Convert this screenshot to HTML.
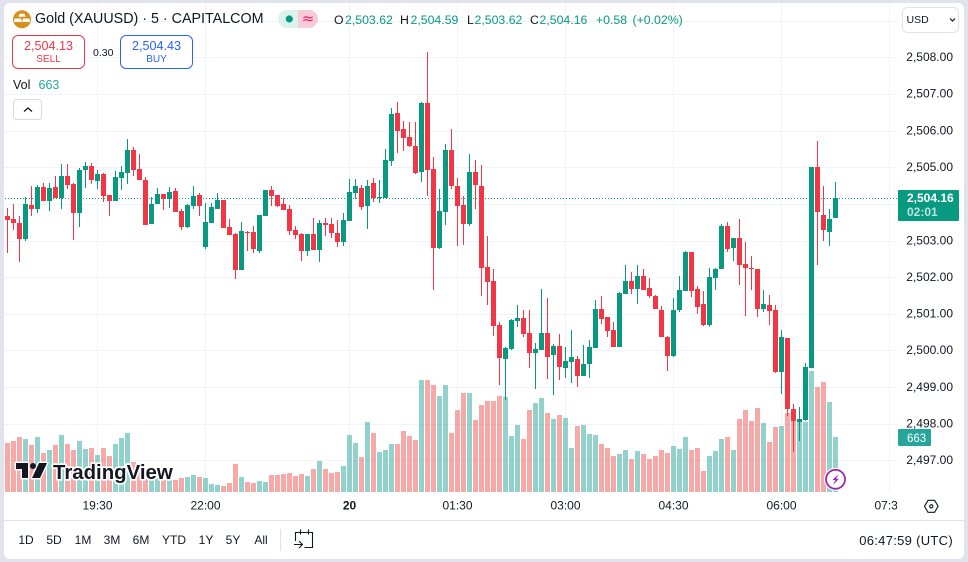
<!DOCTYPE html>
<html lang="en">
<head>
<meta charset="utf-8">
<title>Gold (XAUUSD) chart</title>
<style>
html,body{margin:0;padding:0;width:968px;height:562px;overflow:hidden;background:#E0E3EB;font-family:"Liberation Sans",sans-serif;color:#131722;}
#card{position:absolute;left:4px;top:3px;width:960px;height:556px;background:#fff;border-radius:6px;}
#chart{position:absolute;left:0;top:0;}
.t{position:absolute;white-space:nowrap;line-height:1;}
.g{color:#089981;}
.box{position:absolute;top:35px;width:71px;height:32px;border-radius:6px;background:#fff;border:1px solid;}
.box div{position:absolute;left:0;width:100%;text-align:center;line-height:1;}
.range{position:absolute;top:534px;font-size:12px;color:#131722;line-height:13px;transform:translateX(-50%);white-space:nowrap;}
</style>
</head>
<body>
<div id="card"></div>
<svg id="chart" width="968" height="562" viewBox="0 0 968 562" xmlns="http://www.w3.org/2000/svg">
  <defs><clipPath id="paneClip"><rect x="4" y="3" width="893" height="520"/></clipPath></defs>
  <g id="gridLayer"></g>
  <g id="volumeLayer"></g>
  <line x1="5" y1="198.5" x2="897" y2="198.5" stroke="#089981" stroke-width="1" stroke-dasharray="1 2"/>
  <g id="candleLayer"></g>
  <g id="timeLayer" clip-path="url(#paneClip)"></g>
  <g id="priceLayer"></g>
  <line x1="4" y1="520.5" x2="964" y2="520.5" stroke="#E0E3EB"/>

  <g>
    <path d="M16 463h12v15h-6v-9h-6z M39 463h8l-7 15h-8z" fill="#131722" stroke="#fff" stroke-width="3" paint-order="stroke" stroke-linejoin="round"/>
    <circle cx="33" cy="466" r="3" fill="#131722"/>
    <text x="53" y="479" font-size="20.4" font-weight="700" fill="#131722" stroke="#fff" stroke-width="3.5" paint-order="stroke" stroke-linejoin="round" font-family="Liberation Sans, sans-serif">TradingView</text>
  </g>

  <g>
    <circle cx="835.5" cy="479.3" r="11.5" fill="#fff"/>
    <circle cx="835.5" cy="479.3" r="9.5" fill="#fff" stroke="#9C27B0" stroke-width="1.8"/>
    <path d="M838.5 474l-6 6h3l-2.5 5 6-6.2h-3z" fill="#9C27B0"/>
  </g>

  <g fill="none" stroke="#131722" stroke-width="1.1">
    <path d="M924.5 506.3l3.5-6h6.6l3.5 6-3.5 6h-6.6z"/>
    <circle cx="931.3" cy="506.3" r="1.6"/>
  </g>

  <g>
    <circle cx="22" cy="19.3" r="9" fill="#D4921A"/>
    <path d="M19.5 13.8h5l1 3h-7z M14.8 18.5h6.2l1 3.4h-8.2z M23 18.5h6.2l1 3.4h-8.2z" fill="#fff"/>
  </g>

  <g>
    <path d="M287 10h11v18h-11a9 9 0 0 1 0-18z" fill="#DCF2EE"/>
    <path d="M298 10h11a9 9 0 0 1 0 18h-11z" fill="#F8CBDB"/>
    <circle cx="289.3" cy="19" r="3.6" fill="#089981"/>
    <text x="308" y="23.5" font-size="15" fill="#E91E63" text-anchor="middle" font-family="DejaVu Sans, sans-serif">≈</text>
  </g>

  <g>
    <rect x="13.5" y="99.5" width="28" height="20" rx="3" fill="#fff" stroke="#D6D9E2"/>
    <path d="M24 111.5l4-3.5 4 3.5" fill="none" stroke="#131722" stroke-width="1.3"/>
  </g>

  <g>
    <rect x="902.5" y="7.5" width="56" height="25" rx="5" fill="#fff" stroke="#E0E3EB"/>
    <text x="906.5" y="23" font-size="10.5" fill="#131722" font-family="Liberation Sans, sans-serif">USD</text>
    <path d="M950 18.5l2.5 2.5 2.5-2.5" fill="none" stroke="#131722" stroke-width="1.2"/>
  </g>

  <g>
    <rect x="898" y="190" width="61" height="31" rx="1" fill="#089981"/>
    <text x="907" y="202" font-size="12" font-weight="700" fill="#fff" font-family="Liberation Sans, sans-serif">2,504.16</text>
    <text x="907" y="216" font-size="12" font-weight="700" fill="#fff" fill-opacity=".72" font-family="Liberation Sans, sans-serif">02:01</text>
  </g>
  <g>
    <rect x="898" y="429" width="33" height="17" rx="1" fill="#26A69A"/>
    <text x="907" y="442" font-size="11.5" font-weight="400" fill="#fff" font-family="Liberation Sans, sans-serif">663</text>
  </g>

  <line x1="280.5" y1="529" x2="280.5" y2="551" stroke="#E0E3EB"/>
  <g fill="none" stroke="#131722" stroke-width="1.1">
    <path d="M295.5 541v-8.5h17v15h-8"/>
    <path d="M300.5 529.5v5 M308.5 529.5v5"/>
    <path d="M294 544.5h8 M299 541l3.5 3.5-3.5 3.5"/>
  </g>
</svg>

<div class="t" style="left:35px;top:12px;font-size:14.3px;">Gold (XAUUSD) · 5 · CAPITALCOM</div>

<div class="t" style="left:334px;top:13.5px;font-size:12.3px;">O</div>
<div class="t g" style="left:345px;top:13.5px;font-size:12.3px;">2,503.62</div>
<div class="t" style="left:400px;top:13.5px;font-size:12.3px;">H</div>
<div class="t g" style="left:410.5px;top:13.5px;font-size:12.3px;">2,504.59</div>
<div class="t" style="left:467px;top:13.5px;font-size:12.3px;">L</div>
<div class="t g" style="left:474.5px;top:13.5px;font-size:12.3px;">2,503.62</div>
<div class="t" style="left:530px;top:13.5px;font-size:12.3px;">C</div>
<div class="t g" style="left:539.5px;top:13.5px;font-size:12.3px;">2,504.16</div>
<div class="t g" style="left:596px;top:13.5px;font-size:12.3px;">+0.58</div>
<div class="t g" style="left:632.5px;top:13.5px;font-size:12.3px;">(+0.02%)</div>

<div class="box" style="left:12px;border-color:#F23645;">
  <div style="top:4px;font-size:12.6px;color:#F23645;">2,504.13</div>
  <div style="top:19px;font-size:10px;color:#F23645;">SELL</div>
</div>
<div class="t" style="left:93px;top:48px;font-size:10.5px;color:#131722;">0.30</div>
<div class="box" style="left:120px;border-color:#2962FF;">
  <div style="top:4px;font-size:12.6px;color:#2962FF;">2,504.43</div>
  <div style="top:19px;font-size:10px;color:#2962FF;">BUY</div>
</div>

<div class="t" style="left:13px;top:79px;font-size:12.5px;">Vol</div>
<div class="t" style="left:38.5px;top:79px;font-size:12.5px;color:#26A69A;">663</div>

<div class="range" style="left:26px;">1D</div>
<div class="range" style="left:54px;">5D</div>
<div class="range" style="left:83px;">1M</div>
<div class="range" style="left:112px;">3M</div>
<div class="range" style="left:141px;">6M</div>
<div class="range" style="left:174px;">YTD</div>
<div class="range" style="left:206px;">1Y</div>
<div class="range" style="left:233px;">5Y</div>
<div class="range" style="left:261px;">All</div>
<div class="t" style="right:15px;top:534px;font-size:13px;line-height:13px;letter-spacing:.3px;">06:47:59 (UTC)</div>

<script>
const priceTicks = [2509,2508,2507,2506,2505,2504,2503,2502,2501,2500,2499,2498,2497];
const priceTickLabels = ['','2,508.00','2,507.00','2,506.00','2,505.00','','2,503.00','2,502.00','2,501.00','2,500.00','2,499.00','2,498.00','2,497.00'];
const timeTickBars = [15,33,57,75,93,111,129,147];
const timeTickLabels = ['19:30','22:00','20','01:30','03:00','04:30','06:00','07:30'];
const opens = [
2503.67,2503.59,2503.48,2503.05,2503.97,2503.86,2504.46,2504.09,2504.46,2504.16,
2504.76,2504.54,2503.75,2504.92,2505.03,2504.62,2504.82,2504.24,2504.08,2504.71,
2504.84,2505.47,2504.95,2504.65,2503.45,2504.00,2504.27,2504.13,2504.35,2503.81,
2503.37,2503.94,2504.24,2502.82,2503.48,2503.86,2504.11,2503.37,2503.18,2502.19,
2503.23,2503.23,2502.71,2503.67,2504.38,2504.24,2504.00,2503.86,2503.29,2503.18,
2502.71,2503.18,2502.74,2503.48,2503.45,2503.20,2502.96,2503.53,2504.30,2504.43,
2503.94,2504.57,2504.16,2504.16,2505.17,2506.48,2506.04,2505.82,2505.58,2504.87,
2506.75,2504.95,2502.80,2503.78,2505.47,2504.49,2503.97,2503.45,2504.87,2504.49,
2502.28,2501.90,2500.69,2499.77,2500.04,2500.80,2500.89,2500.48,2499.93,2500.01,
2500.48,2499.88,2500.12,2499.52,2499.68,2499.77,2499.30,2499.63,2500.07,2501.13,
2500.91,2500.56,2500.09,2501.54,2501.90,2501.68,2502.03,2501.70,2501.49,2501.10,
2500.37,2499.85,2501.10,2501.62,2502.69,2501.68,2501.27,2500.69,2501.98,2502.22,
2503.40,2502.80,2503.07,2502.36,2502.25,2502.22,2501.13,2501.24,2501.10,2499.41,
2500.34,2498.40,2498.05,2498.10,2499.52,2505.01,2503.70,2503.23,2503.62];
const highs = [
2503.88,2504.00,2503.67,2504.18,2504.49,2504.52,2504.57,2504.57,2504.76,2505.09,
2505.09,2504.57,2504.98,2505.14,2505.12,2504.92,2504.84,2504.24,2504.90,2505.03,
2505.77,2505.55,2505.36,2504.73,2504.19,2504.43,2504.27,2504.46,2504.43,2503.86,
2504.00,2504.49,2504.30,2504.02,2504.02,2504.30,2504.11,2503.59,2503.20,2503.50,
2503.26,2503.40,2503.70,2504.38,2504.49,2504.24,2504.16,2503.97,2503.40,2503.20,
2503.18,2503.61,2503.56,2503.61,2503.61,2503.56,2503.75,2504.68,2504.68,2504.51,
2504.65,2504.71,2504.65,2505.50,2506.62,2506.78,2506.26,2506.23,2506.23,2506.78,
2508.14,2505.28,2504.41,2505.63,2506.04,2504.71,2504.21,2505.36,2505.20,2505.06,
2503.12,2502.22,2500.78,2500.09,2500.86,2501.24,2501.10,2501.10,2500.20,2501.68,
2501.43,2500.18,2500.45,2500.09,2500.56,2499.85,2500.15,2500.28,2501.38,2501.49,
2500.91,2500.78,2501.60,2502.33,2502.14,2502.33,2502.22,2501.98,2501.51,2501.21,
2500.39,2501.43,2502.03,2502.71,2502.69,2501.76,2501.62,2502.25,2502.25,2503.45,
2503.51,2503.07,2503.59,2502.96,2502.58,2502.22,2501.65,2501.51,2501.24,2500.56,
2500.34,2498.54,2498.46,2499.66,2505.01,2505.72,2504.49,2503.86,2504.59];
const lows = [
2502.67,2503.29,2502.42,2503.00,2503.67,2503.76,2504.09,2503.81,2504.16,2503.86,
2504.41,2503.02,2503.37,2504.43,2504.54,2504.41,2504.05,2503.67,2504.08,2504.38,
2504.54,2504.76,2504.65,2503.42,2503.45,2504.00,2503.83,2503.89,2503.78,2503.29,
2503.34,2503.86,2503.67,2502.77,2503.48,2503.86,2503.34,2503.15,2501.95,2502.19,
2502.71,2502.66,2502.66,2503.67,2503.94,2503.91,2503.83,2503.15,2503.04,2502.44,
2502.58,2502.74,2502.41,2503.12,2503.07,2502.82,2502.85,2503.53,2504.13,2503.83,
2503.31,2504.05,2504.02,2504.16,2505.03,2505.39,2505.44,2505.55,2504.82,2504.60,
2504.21,2501.65,2502.77,2503.42,2504.41,2502.85,2502.88,2503.40,2503.86,2501.49,
2501.24,2500.39,2499.06,2498.65,2500.01,2500.64,2500.37,2499.52,2498.95,2500.01,
2499.22,2498.78,2499.19,2499.25,2499.11,2499.00,2499.30,2499.25,2500.07,2500.72,
2500.37,2500.09,2500.09,2501.54,2501.54,2501.27,2501.65,2501.43,2501.13,2500.37,
2499.44,2499.82,2501.05,2501.62,2501.46,2501.00,2500.67,2500.64,2501.65,2502.22,
2502.69,2502.44,2501.79,2500.94,2501.65,2500.91,2501.05,2500.69,2499.38,2498.81,
2498.21,2497.23,2497.53,2498.07,2499.52,2502.33,2502.99,2502.85,2503.62];
const closes = [
2503.56,2503.48,2503.05,2504.00,2503.86,2504.46,2504.09,2504.43,2504.16,2504.76,
2504.52,2503.75,2504.92,2505.03,2504.65,2504.82,2504.21,2504.08,2504.73,2504.87,
2505.47,2504.92,2504.65,2503.42,2504.00,2504.27,2504.13,2504.32,2503.78,2503.37,
2503.97,2504.21,2503.94,2503.51,2503.91,2504.11,2503.34,2503.15,2502.19,2503.26,
2503.20,2502.77,2503.70,2504.38,2504.21,2503.94,2503.83,2503.26,2503.15,2502.71,
2503.18,2502.74,2503.48,2503.42,2503.20,2502.96,2503.56,2504.32,2504.49,2503.91,
2504.49,2504.16,2504.19,2505.20,2506.45,2505.99,2505.80,2505.58,2504.84,2506.75,
2504.92,2502.80,2503.81,2505.47,2504.49,2503.94,2503.45,2504.87,2504.52,2502.25,
2501.87,2500.67,2499.79,2500.07,2500.83,2500.89,2500.45,2499.93,2500.04,2500.48,
2499.82,2500.12,2499.55,2499.71,2499.82,2499.30,2499.63,2500.09,2501.13,2500.86,
2500.53,2500.09,2501.57,2501.90,2501.68,2502.03,2501.65,2501.49,2501.13,2500.37,
2499.85,2501.10,2501.65,2502.69,2501.62,2501.19,2500.69,2502.00,2502.22,2503.40,
2502.77,2503.07,2502.33,2502.25,2502.22,2501.13,2501.27,2501.08,2499.41,2500.37,
2498.40,2498.07,2498.13,2499.55,2505.01,2503.78,2503.29,2503.59,2504.16];
const volumes = [
588,612,660,636,564,660,468,504,564,684,
576,504,612,516,528,444,528,432,576,648,
708,362,300,270,204,168,144,144,140,168,
180,204,180,168,96,84,72,108,336,180,
120,108,132,120,204,204,216,228,192,216,
192,276,372,276,228,240,312,684,588,420,
840,708,480,504,576,576,732,672,624,1356,
1356,1284,1152,1284,708,984,1188,1188,864,1044,
1092,1092,1152,1140,672,804,636,984,1068,1128,
948,876,924,888,528,792,804,696,684,576,
528,432,456,504,396,492,456,396,432,504,
468,552,516,660,504,528,252,432,492,636,
660,504,876,984,852,1008,828,600,780,792,
948,852,840,840,1464,1260,1332,1080,663];

const SVGNS = 'http://www.w3.org/2000/svg';
function xScale(i){ return 7.5 + 6 * i; }
function yScale(p){ return 57.3 + (2508 - p) * 36.64; }
function volScale(v){ return 492 - v * 55 / 663; }
function make(tag, parent, attrs){
  const el = document.createElementNS(SVGNS, tag);
  for (const k in attrs) el.setAttribute(k, attrs[k]);
  parent.appendChild(el);
  return el;
}
const gridLayer = document.getElementById('gridLayer');
const volumeLayer = document.getElementById('volumeLayer');
const candleLayer = document.getElementById('candleLayer');
const timeLayer = document.getElementById('timeLayer');
const priceLayer = document.getElementById('priceLayer');

priceTicks.forEach(function(p, i){
  const gy = Math.round(yScale(p));
  const line = make('rect', gridLayer, {x: 4, y: gy, width: 893, height: 1, fill: '#F0F3FA'});
  
  
  if (priceTickLabels[i]) {
    const label = make('text', priceLayer, {x: 953, y: yScale(p) + 3.8, 'font-size': 12, 'text-anchor': 'end', fill: '#131722', 'font-family': 'Liberation Sans, sans-serif'});
    
    
    label.textContent = priceTickLabels[i];
  }
});

timeTickBars.forEach(function(b, i){
  const line = make('rect', gridLayer, {x: Math.floor(xScale(b)), y: 3, width: 1, height: 489, fill: '#F0F3FA'});
  
  
  const isDate = timeTickLabels[i] === '20';
  const label = make('text', timeLayer, {x: xScale(b), y: 509.5, 'font-size': 12, 'text-anchor': 'middle', fill: '#131722', 'font-weight': isDate ? 700 : 400, 'font-family': 'Liberation Sans, sans-serif'});
  
  
  label.textContent = timeTickLabels[i];
});

volumes.forEach(function(v, i){
  const up = closes[i] >= opens[i];
  const top = Math.round(volScale(v));
  const bar = make('rect', volumeLayer, {x: Math.floor(xScale(i)) - 2, y: top, width: 5, height: 492 - top, fill: up ? 'rgba(38,166,154,.5)' : 'rgba(239,83,80,.5)'});
  
  
});

opens.forEach(function(o, i){
  const c = closes[i];
  const up = c >= o;
  const color = up ? '#089981' : '#F23645';
  const cx = Math.floor(xScale(i));
  const wt = Math.round(yScale(highs[i]));
  const wb = Math.round(yScale(lows[i]));
  const wick = make('rect', candleLayer, {x: cx, y: wt, width: 1, height: Math.max(1, wb - wt), fill: color});
  
  
  const bt = Math.round(yScale(Math.max(o, c)));
  const bb = Math.round(yScale(Math.min(o, c)));
  const body = make('rect', candleLayer, {x: cx - 2, y: bt, width: 5, height: Math.max(1, bb - bt), fill: color});
  
  
});
</script>
</body>
</html>
